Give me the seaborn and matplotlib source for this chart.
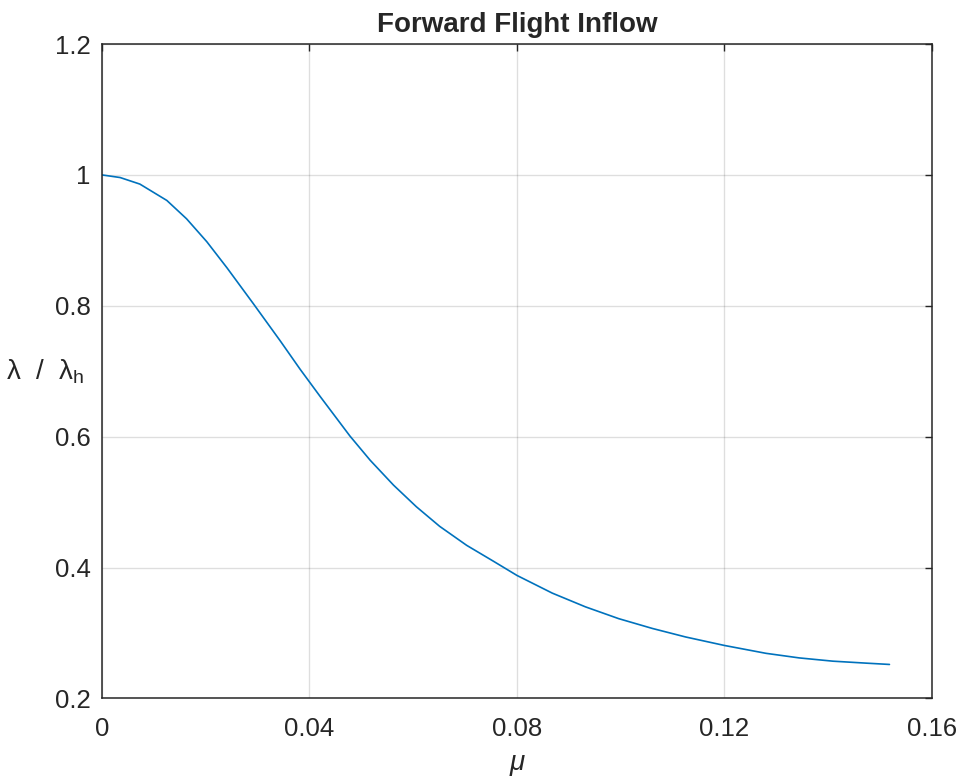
import matplotlib
matplotlib.use('Agg')
import seaborn as sns
import matplotlib.pyplot as plt


# advance ratio mu and normalised inflow lambda / lambda_h
mu = [0.0, 0.0035, 0.0073, 0.0125, 0.0163, 0.0202, 0.0241, 0.0292, 0.0344, 0.0382,
      0.0421, 0.0478, 0.0517, 0.0562, 0.0606, 0.0651, 0.0703, 0.0754, 0.0800, 0.0868,
      0.0932, 0.0996, 0.1061, 0.1125, 0.1200, 0.1280, 0.1344, 0.1409, 0.1473, 0.1518]
inflow_ratio = [1.0, 0.996, 0.986, 0.961, 0.933, 0.898, 0.858, 0.803, 0.746, 0.703,
                0.661, 0.601, 0.564, 0.526, 0.493, 0.463, 0.434, 0.410, 0.388, 0.361,
                0.340, 0.322, 0.307, 0.294, 0.281, 0.269, 0.262, 0.257, 0.254, 0.252]

x_ticks = [0, 0.04, 0.08, 0.12, 0.16]
x_tick_labels = ['0', '0.04', '0.08', '0.12', '0.16']
y_ticks = [0.2, 0.4, 0.6, 0.8, 1.0, 1.2]
y_tick_labels = ['0.2', '0.4', '0.6', '0.8', '1', '1.2']

sns.set_style('white')
plt.rcParams['font.family'] = ['Liberation Sans', 'DejaVu Sans']
plt.rcParams['mathtext.fontset'] = 'custom'
plt.rcParams['mathtext.rm'] = 'Liberation Sans'
plt.rcParams['mathtext.it'] = 'Liberation Sans:italic'

fig = plt.figure(figsize=(9.63, 7.82), dpi=100)
ax = fig.add_axes([0.1059, 0.1068, 0.8619, 0.8369])

sns.lineplot(x=mu, y=inflow_ratio, ax=ax, color='#0072BD', linewidth=1.2)

ax.set_xlim(0, 0.16)
ax.set_ylim(0.2, 1.2)
ax.set_xticks(x_ticks)
ax.set_xticklabels(x_tick_labels)
ax.set_yticks(y_ticks)
ax.set_yticklabels(y_tick_labels)

ax.grid(True, color='#262626', alpha=0.15, linewidth=1)
for spine in ax.spines.values():
    spine.set_color('#262626')
    spine.set_linewidth(1.1)
ax.tick_params(axis='both', direction='in', length=5, width=1, color='#262626',
               labelcolor='#262626', labelsize=18.5, top=True, right=True)
ax.tick_params(axis='x', pad=13.5)
ax.tick_params(axis='y', pad=8)

ax.set_title('Forward Flight Inflow', fontsize=20, fontweight='bold', pad=9)
ax.set_xlabel('μ', fontsize=20, style='italic', color='#262626', labelpad=6)
ax.set_ylabel('λ  /  λ$_\\mathrm{h}$', fontsize=20, color='#262626',
              rotation=0, ha='right', va='center')
ax.yaxis.set_label_coords(-0.022, 0.5)

fig.savefig('out.png', dpi=100)
